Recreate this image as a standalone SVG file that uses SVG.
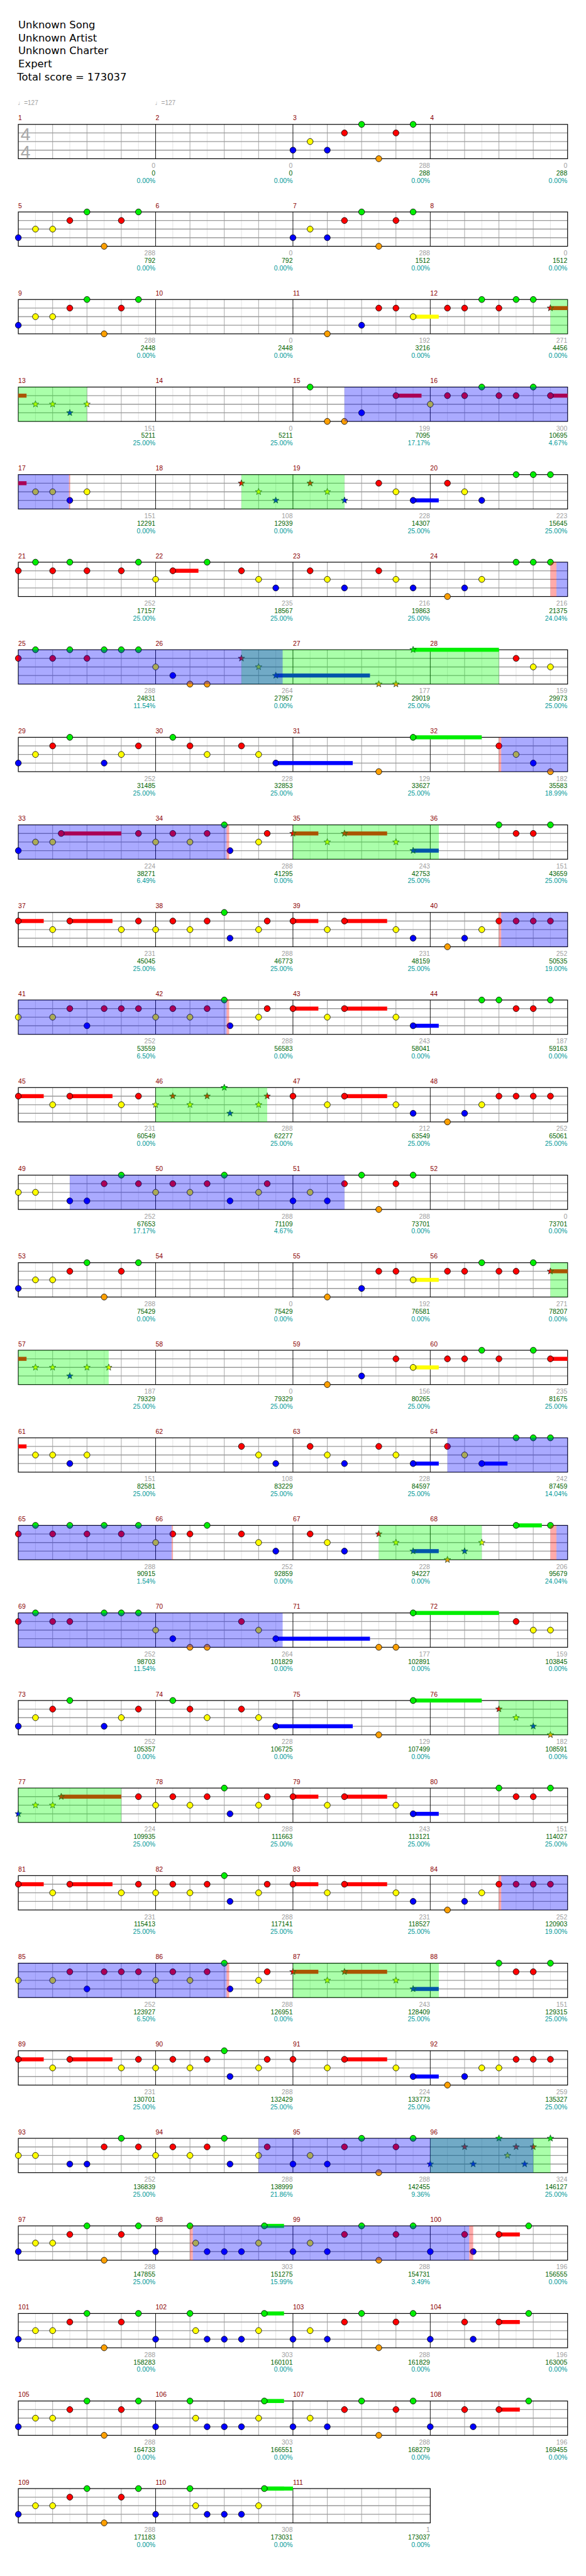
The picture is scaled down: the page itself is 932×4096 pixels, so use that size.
<svg xmlns="http://www.w3.org/2000/svg" xmlns:xlink="http://www.w3.org/1999/xlink" width="932" height="4096" viewBox="0 0 932 4096">
<defs>
<style>
text{font-family:"Liberation Sans",Arial,sans-serif;font-size:11.5px}
.t{font-family:"DejaVu Sans",sans-serif;font-size:18px;fill:#000}
.mn{fill:#8b0000}
.a,.c,.d{text-anchor:end}
.a{fill:#a0a0a0}.c{fill:#006400}.d{fill:#009999}
.tp{fill:#a0a0a0;font-size:11px}
.ts{fill:#a8a8a8;font-size:31px}
.g{fill:#00ee00}.r{fill:#f00}.y{fill:#ff0}.b{fill:#00f}.o{fill:#ffa000}
.ob{fill:#00f;fill-opacity:.333}.og{fill:#0f0;fill-opacity:.333}.op{fill:#f00;fill-opacity:.333}
</style>
<ellipse id="n" rx="5.2" ry="5.3" stroke="#000" stroke-width=".9"/>
<path id="s" d="M0,-6L1.47,-2.02L5.71,-1.85L2.38,0.77L3.53,4.85L0,2.5L-3.53,4.85L-2.38,0.77L-5.71,-1.85L-1.47,-2.02Z" stroke="#132" stroke-width=".8"/>
<g id="st4">
<rect x="32" y="0" width="960" height="60" fill="#fff"/>
<path d="M62 0V60M122 0V60M182 0V60M242 0V60M302 0V60M362 0V60M422 0V60M482 0V60M542 0V60M602 0V60M662 0V60M722 0V60M782 0V60M842 0V60M902 0V60M962 0V60" stroke="#e0e0e0"/>
<path d="M92 0V60M152 0V60M212 0V60M332 0V60M392 0V60M452 0V60M572 0V60M632 0V60M692 0V60M812 0V60M872 0V60M932 0V60" stroke="#a0a0a0"/>
<path d="M32 15H992M32 30H992M32 45H992" stroke="#999" stroke-width="1.5"/>
<path d="M272 0V60M512 0V60M752 0V60" stroke="#000"/>
<rect x="32" y="0" width="960" height="60" fill="none" stroke="#000" stroke-width="1.3"/>
</g>
<g id="st3">
<rect x="32" y="0" width="720" height="60" fill="#fff"/>
<path d="M62 0V60M122 0V60M182 0V60M242 0V60M302 0V60M362 0V60M422 0V60M482 0V60M542 0V60M602 0V60M662 0V60M722 0V60" stroke="#e0e0e0"/>
<path d="M92 0V60M152 0V60M212 0V60M332 0V60M392 0V60M452 0V60M572 0V60M632 0V60M692 0V60" stroke="#a0a0a0"/>
<path d="M32 15H752M32 30H752M32 45H752" stroke="#999" stroke-width="1.5"/>
<path d="M272 0V60M512 0V60" stroke="#000"/>
<rect x="32" y="0" width="720" height="60" fill="none" stroke="#000" stroke-width="1.3"/>
</g>
<g id="p1a"><use href="#n" class="b" x="32" y="45"/><use href="#n" class="y" x="62" y="30"/><use href="#n" class="y" x="92" y="30"/><use href="#n" class="r" x="122" y="15"/><use href="#n" class="g" x="152" y="0"/><use href="#n" class="o" x="182" y="60"/><use href="#n" class="r" x="212" y="15"/><use href="#n" class="g" x="242" y="0"/></g>
<g id="p1b"><use href="#n" class="b" x="512" y="45"/><use href="#n" class="y" x="542" y="30"/><use href="#n" class="b" x="572" y="45"/><use href="#n" class="r" x="602" y="15"/><use href="#n" class="g" x="632" y="0"/><use href="#n" class="o" x="662" y="60"/><use href="#n" class="r" x="692" y="15"/><use href="#n" class="g" x="722" y="0"/></g>
<g id="pmid"><use href="#n" class="y" x="272" y="30"/><use href="#n" class="r" x="302" y="15"/><use href="#n" class="y" x="332" y="30"/><use href="#n" class="r" x="362" y="15"/><use href="#n" class="g" x="392" y="0"/><use href="#n" class="b" x="402" y="45"/><use href="#n" class="y" x="452" y="30"/><use href="#n" class="r" x="467" y="15"/></g>
<g id="p37">
<rect class="r" x="32" y="11.5" width="44.4" height="7"/><rect class="r" x="122" y="11.5" width="74.6" height="7"/><rect class="r" x="512" y="11.5" width="44.4" height="7"/><rect class="r" x="602" y="11.5" width="74.6" height="7"/>
<use href="#n" class="r" x="32" y="15"/><use href="#n" class="y" x="92" y="30"/><use href="#n" class="r" x="122" y="15"/><use href="#n" class="y" x="212" y="30"/><use href="#n" class="r" x="242" y="15"/><use href="#pmid"/>
<use href="#n" class="r" x="512" y="15"/><use href="#n" class="y" x="572" y="30"/><use href="#n" class="r" x="602" y="15"/><use href="#n" class="y" x="692" y="30"/><use href="#n" class="b" x="722" y="45"/><use href="#n" class="o" x="782" y="60"/><use href="#n" class="b" x="812" y="45"/><use href="#n" class="y" x="842" y="30"/><use href="#n" class="r" x="872" y="15"/><use href="#n" class="r" x="902" y="15"/><use href="#n" class="r" x="932" y="15"/><use href="#n" class="r" x="962" y="15"/>
</g>
<g id="p97h">
<rect class="g" x="462" y="-3.5" width="34.4" height="7"/>
<use href="#p1a"/><use href="#n" class="b" x="272" y="45"/><use href="#n" class="g" x="332" y="0"/><use href="#n" class="y" x="342" y="30"/><use href="#n" class="b" x="362" y="45"/><use href="#n" class="b" x="392" y="45"/><use href="#n" class="b" x="422" y="45"/><use href="#n" class="y" x="452" y="30"/><use href="#n" class="g" x="462" y="0"/>
</g>
<g id="p97">
<rect class="r" x="872" y="11.5" width="36.5" height="7"/>
<use href="#p97h"/><use href="#n" class="b" x="512" y="45"/><use href="#n" class="y" x="542" y="30"/><use href="#n" class="b" x="572" y="45"/><use href="#n" class="r" x="602" y="15"/><use href="#n" class="g" x="632" y="0"/><use href="#n" class="o" x="662" y="60"/><use href="#n" class="r" x="692" y="15"/><use href="#n" class="g" x="722" y="0"/><use href="#n" class="b" x="752" y="45"/><use href="#n" class="r" x="812" y="15"/><use href="#n" class="b" x="827" y="45"/><use href="#n" class="r" x="872" y="15"/><use href="#n" class="g" x="924" y="0"/>
</g>
</defs>
<rect width="932" height="4096" fill="#fff"/>
<g transform="scale(0.91)">
<g id="header">
<text class="t" x="32" y="49">Unknown Song</text>
<text class="t" x="32" y="72">Unknown Artist</text>
<text class="t" x="32" y="95">Unknown Charter</text>
<text class="t" x="32" y="118">Expert</text>
<text class="t" x="30" y="141">Total score = 173037</text>
<text class="tp" x="31" y="184">♩=127</text>
<text class="tp" x="271" y="184">♩=127</text>
</g>
<g id="connectors"/>

<g id="row1" transform="translate(0,217.33)">
<use href="#st4"/>
<text class="ts" x="36" y="28">4</text><text class="ts" x="36" y="58">4</text>
<text class="mn" x="32" y="-7">1</text><text class="mn" x="272" y="-7">2</text><text class="mn" x="512" y="-7">3</text><text class="mn" x="752" y="-7">4</text>
<use href="#p1b"/>
<text class="a" x="271.5" y="76">0</text><text class="a" x="511.5" y="76">0</text><text class="a" x="751.5" y="76">288</text><text class="a" x="991.5" y="76">0</text>
<text class="c" x="271.5" y="89">0</text><text class="c" x="511.5" y="89">0</text><text class="c" x="751.5" y="89">288</text><text class="c" x="991.5" y="89">288</text>
<text class="d" x="271.5" y="102">0.00%</text><text class="d" x="511.5" y="102">0.00%</text><text class="d" x="751.5" y="102">0.00%</text><text class="d" x="991.5" y="102">0.00%</text>
</g>

<g id="row2" transform="translate(0,370.33)">
<use href="#st4"/>
<text class="mn" x="32" y="-7">5</text><text class="mn" x="272" y="-7">6</text><text class="mn" x="512" y="-7">7</text><text class="mn" x="752" y="-7">8</text>
<use href="#p1a"/><use href="#p1b"/>
<text class="a" x="271.5" y="76">288</text><text class="a" x="511.5" y="76">0</text><text class="a" x="751.5" y="76">288</text><text class="a" x="991.5" y="76">0</text>
<text class="c" x="271.5" y="89">792</text><text class="c" x="511.5" y="89">792</text><text class="c" x="751.5" y="89">1512</text><text class="c" x="991.5" y="89">1512</text>
<text class="d" x="271.5" y="102">0.00%</text><text class="d" x="511.5" y="102">0.00%</text><text class="d" x="751.5" y="102">0.00%</text><text class="d" x="991.5" y="102">0.00%</text>
</g>

<g id="row3" transform="translate(0,523.33)">
<use href="#st4"/>
<text class="mn" x="32" y="-7">9</text><text class="mn" x="272" y="-7">10</text><text class="mn" x="512" y="-7">11</text><text class="mn" x="752" y="-7">12</text>
<rect class="y" x="722" y="26.5" width="44.8" height="7"/><rect class="r" x="962" y="11.5" width="30" height="7"/>
<use href="#p1a"/>
<use href="#n" class="o" x="572" y="60"/><use href="#n" class="b" x="632" y="45"/><use href="#n" class="r" x="662" y="15"/><use href="#n" class="r" x="692" y="15"/><use href="#n" class="y" x="722" y="30"/><use href="#n" class="r" x="782" y="15"/><use href="#n" class="r" x="812" y="15"/><use href="#n" class="g" x="842" y="0"/><use href="#n" class="r" x="872" y="15"/><use href="#n" class="g" x="902" y="0"/><use href="#n" class="g" x="932" y="0"/><use href="#s" class="r" x="962" y="15"/>
<rect class="og" x="962" y="0" width="30" height="60"/>
<text class="a" x="271.5" y="76">288</text><text class="a" x="511.5" y="76">0</text><text class="a" x="751.5" y="76">192</text><text class="a" x="991.5" y="76">271</text>
<text class="c" x="271.5" y="89">2448</text><text class="c" x="511.5" y="89">2448</text><text class="c" x="751.5" y="89">3216</text><text class="c" x="991.5" y="89">4456</text>
<text class="d" x="271.5" y="102">0.00%</text><text class="d" x="511.5" y="102">0.00%</text><text class="d" x="751.5" y="102">0.00%</text><text class="d" x="991.5" y="102">0.00%</text>
</g>

<g id="row4" transform="translate(0,676.33)">
<use href="#st4"/>
<text class="mn" x="32" y="-7">13</text><text class="mn" x="272" y="-7">14</text><text class="mn" x="512" y="-7">15</text><text class="mn" x="752" y="-7">16</text>
<rect class="r" x="32" y="11.5" width="14.4" height="7"/><rect class="r" x="692" y="11.5" width="44.7" height="7"/><rect class="r" x="962" y="11.5" width="30" height="7"/>
<use href="#s" class="y" x="62" y="30"/><use href="#s" class="y" x="92" y="30"/><use href="#s" class="b" x="122" y="45"/><use href="#s" class="y" x="152" y="30"/>
<use href="#n" class="g" x="542" y="0"/><use href="#n" class="o" x="572" y="60"/><use href="#n" class="o" x="602" y="60"/><use href="#n" class="b" x="632" y="45"/><use href="#n" class="r" x="692" y="15"/><use href="#n" class="y" x="752" y="30"/><use href="#n" class="r" x="782" y="15"/><use href="#n" class="r" x="812" y="15"/><use href="#n" class="g" x="842" y="0"/><use href="#n" class="r" x="872" y="15"/><use href="#n" class="r" x="902" y="15"/><use href="#n" class="g" x="932" y="0"/><use href="#n" class="r" x="962" y="15"/>
<rect class="og" x="32" y="0" width="120" height="60"/><rect class="ob" x="602" y="0" width="390" height="60"/>
<text class="a" x="271.5" y="76">151</text><text class="a" x="511.5" y="76">0</text><text class="a" x="751.5" y="76">199</text><text class="a" x="991.5" y="76">300</text>
<text class="c" x="271.5" y="89">5211</text><text class="c" x="511.5" y="89">5211</text><text class="c" x="751.5" y="89">7095</text><text class="c" x="991.5" y="89">10695</text>
<text class="d" x="271.5" y="102">25.00%</text><text class="d" x="511.5" y="102">25.00%</text><text class="d" x="751.5" y="102">17.17%</text><text class="d" x="991.5" y="102">4.67%</text>
</g>

<g id="row5" transform="translate(0,829.33)">
<use href="#st4"/>
<text class="mn" x="32" y="-7">17</text><text class="mn" x="272" y="-7">18</text><text class="mn" x="512" y="-7">19</text><text class="mn" x="752" y="-7">20</text>
<rect class="r" x="32" y="11.5" width="14.4" height="7"/><rect class="b" x="722" y="41.5" width="44.8" height="7"/>
<use href="#n" class="y" x="62" y="30"/><use href="#n" class="y" x="92" y="30"/><use href="#n" class="b" x="122" y="45"/><use href="#n" class="y" x="152" y="30"/>
<use href="#s" class="r" x="422" y="15"/><use href="#s" class="y" x="452" y="30"/><use href="#s" class="b" x="482" y="45"/><use href="#s" class="r" x="542" y="15"/><use href="#s" class="y" x="572" y="30"/><use href="#s" class="b" x="602" y="45"/>
<use href="#n" class="r" x="662" y="15"/><use href="#n" class="y" x="692" y="30"/><use href="#n" class="b" x="722" y="45"/><use href="#n" class="r" x="782" y="15"/><use href="#n" class="y" x="812" y="30"/><use href="#n" class="b" x="842" y="45"/><use href="#n" class="g" x="902" y="0"/><use href="#n" class="g" x="932" y="0"/><use href="#n" class="g" x="962" y="0"/>
<rect class="og" x="422" y="0" width="180" height="60"/><rect class="op" x="120.5" y="0" width="2" height="60"/><rect class="ob" x="32" y="0" width="88.5" height="60"/>
<text class="a" x="271.5" y="76">151</text><text class="a" x="511.5" y="76">108</text><text class="a" x="751.5" y="76">228</text><text class="a" x="991.5" y="76">223</text>
<text class="c" x="271.5" y="89">12291</text><text class="c" x="511.5" y="89">12939</text><text class="c" x="751.5" y="89">14307</text><text class="c" x="991.5" y="89">15645</text>
<text class="d" x="271.5" y="102">0.00%</text><text class="d" x="511.5" y="102">0.00%</text><text class="d" x="751.5" y="102">25.00%</text><text class="d" x="991.5" y="102">25.00%</text>
</g>

<g id="row6" transform="translate(0,982.33)">
<use href="#st4"/>
<text class="mn" x="32" y="-7">21</text><text class="mn" x="272" y="-7">22</text><text class="mn" x="512" y="-7">23</text><text class="mn" x="752" y="-7">24</text>
<rect class="r" x="302" y="11.5" width="44.8" height="7"/>
<use href="#n" class="r" x="32" y="15"/><use href="#n" class="g" x="62" y="0"/><use href="#n" class="r" x="92" y="15"/><use href="#n" class="g" x="122" y="0"/><use href="#n" class="r" x="152" y="15"/><use href="#n" class="r" x="212" y="15"/><use href="#n" class="g" x="242" y="0"/><use href="#n" class="y" x="272" y="30"/><use href="#n" class="r" x="302" y="15"/><use href="#n" class="g" x="362" y="0"/><use href="#n" class="r" x="422" y="15"/><use href="#n" class="y" x="452" y="30"/><use href="#n" class="b" x="482" y="45"/><use href="#n" class="r" x="542" y="15"/><use href="#n" class="y" x="572" y="30"/><use href="#n" class="b" x="602" y="45"/><use href="#n" class="r" x="662" y="15"/><use href="#n" class="y" x="692" y="30"/><use href="#n" class="b" x="722" y="45"/><use href="#n" class="o" x="782" y="60"/><use href="#n" class="b" x="812" y="45"/><use href="#n" class="y" x="842" y="30"/><use href="#n" class="g" x="902" y="0"/><use href="#n" class="g" x="932" y="0"/><use href="#n" class="g" x="962" y="0"/>
<rect class="op" x="962" y="0" width="10.5" height="60"/><rect class="ob" x="972.5" y="0" width="19.5" height="60"/>
<text class="a" x="271.5" y="76">252</text><text class="a" x="511.5" y="76">235</text><text class="a" x="751.5" y="76">216</text><text class="a" x="991.5" y="76">216</text>
<text class="c" x="271.5" y="89">17157</text><text class="c" x="511.5" y="89">18567</text><text class="c" x="751.5" y="89">19863</text><text class="c" x="991.5" y="89">21375</text>
<text class="d" x="271.5" y="102">25.00%</text><text class="d" x="511.5" y="102">25.00%</text><text class="d" x="751.5" y="102">25.00%</text><text class="d" x="991.5" y="102">24.04%</text>
</g>

<g id="row7" transform="translate(0,1135.33)">
<use href="#st4"/>
<text class="mn" x="32" y="-7">25</text><text class="mn" x="272" y="-7">26</text><text class="mn" x="512" y="-7">27</text><text class="mn" x="752" y="-7">28</text>
<rect class="b" x="482" y="41.5" width="164.6" height="7"/><rect class="g" x="722" y="-3.5" width="150" height="7"/>
<use href="#n" class="r" x="32" y="15"/><use href="#n" class="g" x="62" y="0"/><use href="#n" class="r" x="92" y="15"/><use href="#n" class="g" x="122" y="0"/><use href="#n" class="r" x="152" y="15"/><use href="#n" class="g" x="182" y="0"/><use href="#n" class="g" x="212" y="0"/><use href="#n" class="g" x="242" y="0"/><use href="#n" class="y" x="272" y="30"/><use href="#n" class="b" x="302" y="45"/><use href="#n" class="o" x="332" y="60"/><use href="#n" class="o" x="362" y="60"/>
<use href="#s" class="r" x="422" y="15"/><use href="#s" class="y" x="452" y="30"/><use href="#s" class="b" x="482" y="45"/><use href="#s" class="o" x="662" y="60"/><use href="#s" class="o" x="692" y="60"/><use href="#s" class="g" x="722" y="0"/>
<use href="#n" class="r" x="902" y="15"/><use href="#n" class="y" x="932" y="30"/><use href="#n" class="y" x="962" y="30"/>
<rect class="og" x="422" y="0" width="450" height="60"/><rect class="ob" x="32" y="0" width="462" height="60"/>
<text class="a" x="271.5" y="76">288</text><text class="a" x="511.5" y="76">264</text><text class="a" x="751.5" y="76">177</text><text class="a" x="991.5" y="76">159</text>
<text class="c" x="271.5" y="89">24831</text><text class="c" x="511.5" y="89">27957</text><text class="c" x="751.5" y="89">29019</text><text class="c" x="991.5" y="89">29973</text>
<text class="d" x="271.5" y="102">11.54%</text><text class="d" x="511.5" y="102">0.00%</text><text class="d" x="751.5" y="102">25.00%</text><text class="d" x="991.5" y="102">25.00%</text>
</g>

<g id="row8" transform="translate(0,1288.33)">
<use href="#st4"/>
<text class="mn" x="32" y="-7">29</text><text class="mn" x="272" y="-7">30</text><text class="mn" x="512" y="-7">31</text><text class="mn" x="752" y="-7">32</text>
<rect class="b" x="482" y="41.5" width="134.5" height="7"/><rect class="g" x="722" y="-3.5" width="120" height="7"/>
<use href="#n" class="b" x="32" y="45"/><use href="#n" class="y" x="62" y="30"/><use href="#n" class="r" x="92" y="15"/><use href="#n" class="g" x="122" y="0"/><use href="#n" class="b" x="182" y="45"/><use href="#n" class="y" x="212" y="30"/><use href="#n" class="r" x="242" y="15"/><use href="#n" class="g" x="302" y="0"/><use href="#n" class="r" x="332" y="15"/><use href="#n" class="y" x="362" y="30"/><use href="#n" class="r" x="422" y="15"/><use href="#n" class="y" x="452" y="30"/><use href="#n" class="b" x="482" y="45"/><use href="#n" class="o" x="662" y="60"/><use href="#n" class="g" x="722" y="0"/><use href="#n" class="r" x="872" y="15"/><use href="#n" class="y" x="902" y="30"/><use href="#n" class="b" x="932" y="45"/><use href="#n" class="o" x="962" y="60"/>
<rect class="op" x="872" y="0" width="4" height="60"/><rect class="ob" x="876" y="0" width="116" height="60"/>
<text class="a" x="271.5" y="76">252</text><text class="a" x="511.5" y="76">228</text><text class="a" x="751.5" y="76">129</text><text class="a" x="991.5" y="76">182</text>
<text class="c" x="271.5" y="89">31485</text><text class="c" x="511.5" y="89">32853</text><text class="c" x="751.5" y="89">33627</text><text class="c" x="991.5" y="89">35583</text>
<text class="d" x="271.5" y="102">25.00%</text><text class="d" x="511.5" y="102">25.00%</text><text class="d" x="751.5" y="102">25.00%</text><text class="d" x="991.5" y="102">18.99%</text>
</g>

<g id="row9" transform="translate(0,1441.33)">
<use href="#st4"/>
<text class="mn" x="32" y="-7">33</text><text class="mn" x="272" y="-7">34</text><text class="mn" x="512" y="-7">35</text><text class="mn" x="752" y="-7">36</text>
<rect class="r" x="107" y="11.5" width="105" height="7"/><rect class="r" x="512" y="11.5" width="44.4" height="7"/><rect class="r" x="602" y="11.5" width="74.6" height="7"/><rect class="b" x="722" y="41.5" width="44.8" height="7"/>
<use href="#n" class="b" x="32" y="45"/><use href="#n" class="y" x="62" y="30"/><use href="#n" class="y" x="92" y="30"/><use href="#n" class="r" x="107" y="15"/><use href="#n" class="r" x="242" y="15"/><use href="#pmid"/>
<use href="#s" class="r" x="512" y="15"/><use href="#s" class="y" x="572" y="30"/><use href="#s" class="r" x="602" y="15"/><use href="#s" class="y" x="692" y="30"/><use href="#s" class="b" x="722" y="45"/>
<use href="#n" class="g" x="872" y="0"/><use href="#n" class="r" x="902" y="15"/><use href="#n" class="r" x="932" y="15"/><use href="#n" class="g" x="962" y="0"/>
<rect class="og" x="512" y="0" width="255" height="60"/><rect class="ob" x="32" y="0" width="364" height="60"/><rect class="op" x="396" y="0" width="4.5" height="60"/>
<text class="a" x="271.5" y="76">224</text><text class="a" x="511.5" y="76">288</text><text class="a" x="751.5" y="76">243</text><text class="a" x="991.5" y="76">151</text>
<text class="c" x="271.5" y="89">38271</text><text class="c" x="511.5" y="89">41295</text><text class="c" x="751.5" y="89">42753</text><text class="c" x="991.5" y="89">43659</text>
<text class="d" x="271.5" y="102">6.49%</text><text class="d" x="511.5" y="102">0.00%</text><text class="d" x="751.5" y="102">25.00%</text><text class="d" x="991.5" y="102">25.00%</text>
</g>

<g id="row10" transform="translate(0,1594.33)">
<use href="#st4"/>
<text class="mn" x="32" y="-7">37</text><text class="mn" x="272" y="-7">38</text><text class="mn" x="512" y="-7">39</text><text class="mn" x="752" y="-7">40</text>
<use href="#p37"/>
<rect class="op" x="872" y="0" width="4" height="60"/><rect class="ob" x="876" y="0" width="116" height="60"/>
<text class="a" x="271.5" y="76">231</text><text class="a" x="511.5" y="76">288</text><text class="a" x="751.5" y="76">231</text><text class="a" x="991.5" y="76">252</text>
<text class="c" x="271.5" y="89">45045</text><text class="c" x="511.5" y="89">46773</text><text class="c" x="751.5" y="89">48159</text><text class="c" x="991.5" y="89">50535</text>
<text class="d" x="271.5" y="102">25.00%</text><text class="d" x="511.5" y="102">25.00%</text><text class="d" x="751.5" y="102">25.00%</text><text class="d" x="991.5" y="102">19.00%</text>
</g>

<g id="row11" transform="translate(0,1747.33)">
<use href="#st4"/>
<text class="mn" x="32" y="-7">41</text><text class="mn" x="272" y="-7">42</text><text class="mn" x="512" y="-7">43</text><text class="mn" x="752" y="-7">44</text>
<rect class="r" x="512" y="11.5" width="44.4" height="7"/><rect class="r" x="602" y="11.5" width="74.6" height="7"/><rect class="b" x="722" y="41.5" width="44.8" height="7"/>
<use href="#n" class="y" x="32" y="30"/><use href="#n" class="y" x="92" y="30"/><use href="#n" class="r" x="122" y="15"/><use href="#n" class="b" x="152" y="45"/><use href="#n" class="r" x="182" y="15"/><use href="#n" class="r" x="212" y="15"/><use href="#n" class="r" x="242" y="15"/><use href="#pmid"/>
<use href="#n" class="r" x="512" y="15"/><use href="#n" class="y" x="572" y="30"/><use href="#n" class="r" x="602" y="15"/><use href="#n" class="y" x="692" y="30"/><use href="#n" class="b" x="722" y="45"/><use href="#n" class="g" x="842" y="0"/><use href="#n" class="g" x="872" y="0"/><use href="#n" class="r" x="902" y="15"/><use href="#n" class="r" x="932" y="15"/><use href="#n" class="g" x="962" y="0"/>
<rect class="ob" x="32" y="0" width="364" height="60"/><rect class="op" x="396" y="0" width="4.5" height="60"/>
<text class="a" x="271.5" y="76">252</text><text class="a" x="511.5" y="76">288</text><text class="a" x="751.5" y="76">243</text><text class="a" x="991.5" y="76">187</text>
<text class="c" x="271.5" y="89">53559</text><text class="c" x="511.5" y="89">56583</text><text class="c" x="751.5" y="89">58041</text><text class="c" x="991.5" y="89">59163</text>
<text class="d" x="271.5" y="102">6.50%</text><text class="d" x="511.5" y="102">0.00%</text><text class="d" x="751.5" y="102">0.00%</text><text class="d" x="991.5" y="102">0.00%</text>
</g>

<g id="row12" transform="translate(0,1900.33)">
<use href="#st4"/>
<text class="mn" x="32" y="-7">45</text><text class="mn" x="272" y="-7">46</text><text class="mn" x="512" y="-7">47</text><text class="mn" x="752" y="-7">48</text>
<rect class="r" x="32" y="11.5" width="44.4" height="7"/><rect class="r" x="122" y="11.5" width="74.6" height="7"/><rect class="r" x="602" y="11.5" width="74.6" height="7"/>
<use href="#n" class="r" x="32" y="15"/><use href="#n" class="y" x="92" y="30"/><use href="#n" class="r" x="122" y="15"/><use href="#n" class="y" x="212" y="30"/><use href="#n" class="r" x="242" y="15"/>
<use href="#s" class="y" x="272" y="30"/><use href="#s" class="r" x="302" y="15"/><use href="#s" class="y" x="332" y="30"/><use href="#s" class="r" x="362" y="15"/><use href="#s" class="g" x="392" y="0"/><use href="#s" class="b" x="402" y="45"/><use href="#s" class="y" x="452" y="30"/><use href="#s" class="r" x="467" y="15"/>
<use href="#n" class="r" x="512" y="15"/><use href="#n" class="y" x="572" y="30"/><use href="#n" class="r" x="602" y="15"/><use href="#n" class="y" x="692" y="30"/><use href="#n" class="b" x="722" y="45"/><use href="#n" class="o" x="782" y="60"/><use href="#n" class="b" x="812" y="45"/><use href="#n" class="y" x="842" y="30"/><use href="#n" class="r" x="872" y="15"/><use href="#n" class="r" x="902" y="15"/><use href="#n" class="r" x="932" y="15"/><use href="#n" class="r" x="962" y="15"/>
<rect class="og" x="272" y="0" width="195" height="60"/>
<text class="a" x="271.5" y="76">231</text><text class="a" x="511.5" y="76">288</text><text class="a" x="751.5" y="76">212</text><text class="a" x="991.5" y="76">252</text>
<text class="c" x="271.5" y="89">60549</text><text class="c" x="511.5" y="89">62277</text><text class="c" x="751.5" y="89">63549</text><text class="c" x="991.5" y="89">65061</text>
<text class="d" x="271.5" y="102">0.00%</text><text class="d" x="511.5" y="102">25.00%</text><text class="d" x="751.5" y="102">25.00%</text><text class="d" x="991.5" y="102">25.00%</text>
</g>

<g id="row13" transform="translate(0,2053.33)">
<use href="#st4"/>
<text class="mn" x="32" y="-7">49</text><text class="mn" x="272" y="-7">50</text><text class="mn" x="512" y="-7">51</text><text class="mn" x="752" y="-7">52</text>
<use href="#n" class="y" x="32" y="30"/><use href="#n" class="y" x="62" y="30"/><use href="#n" class="b" x="122" y="45"/><use href="#n" class="b" x="152" y="45"/><use href="#n" class="r" x="182" y="15"/><use href="#n" class="g" x="212" y="0"/><use href="#n" class="r" x="242" y="15"/><use href="#pmid"/><use href="#p1b"/>
<rect class="ob" x="122" y="0" width="480" height="60"/>
<text class="a" x="271.5" y="76">252</text><text class="a" x="511.5" y="76">288</text><text class="a" x="751.5" y="76">288</text><text class="a" x="991.5" y="76">0</text>
<text class="c" x="271.5" y="89">67653</text><text class="c" x="511.5" y="89">71109</text><text class="c" x="751.5" y="89">73701</text><text class="c" x="991.5" y="89">73701</text>
<text class="d" x="271.5" y="102">17.17%</text><text class="d" x="511.5" y="102">4.67%</text><text class="d" x="751.5" y="102">0.00%</text><text class="d" x="991.5" y="102">0.00%</text>
</g>

<g id="row14" transform="translate(0,2206.33)">
<use href="#st4"/>
<text class="mn" x="32" y="-7">53</text><text class="mn" x="272" y="-7">54</text><text class="mn" x="512" y="-7">55</text><text class="mn" x="752" y="-7">56</text>
<rect class="y" x="722" y="26.5" width="44.8" height="7"/><rect class="r" x="962" y="11.5" width="30" height="7"/>
<use href="#p1a"/>
<use href="#n" class="o" x="572" y="60"/><use href="#n" class="b" x="632" y="45"/><use href="#n" class="r" x="662" y="15"/><use href="#n" class="r" x="692" y="15"/><use href="#n" class="y" x="722" y="30"/><use href="#n" class="r" x="782" y="15"/><use href="#n" class="r" x="812" y="15"/><use href="#n" class="g" x="842" y="0"/><use href="#n" class="r" x="872" y="15"/><use href="#n" class="r" x="902" y="15"/><use href="#n" class="g" x="932" y="0"/><use href="#s" class="r" x="962" y="15"/>
<rect class="og" x="962" y="0" width="30" height="60"/>
<text class="a" x="271.5" y="76">288</text><text class="a" x="511.5" y="76">0</text><text class="a" x="751.5" y="76">192</text><text class="a" x="991.5" y="76">271</text>
<text class="c" x="271.5" y="89">75429</text><text class="c" x="511.5" y="89">75429</text><text class="c" x="751.5" y="89">76581</text><text class="c" x="991.5" y="89">78207</text>
<text class="d" x="271.5" y="102">0.00%</text><text class="d" x="511.5" y="102">0.00%</text><text class="d" x="751.5" y="102">0.00%</text><text class="d" x="991.5" y="102">0.00%</text>
</g>

<g id="row15" transform="translate(0,2359.33)">
<use href="#st4"/>
<text class="mn" x="32" y="-7">57</text><text class="mn" x="272" y="-7">58</text><text class="mn" x="512" y="-7">59</text><text class="mn" x="752" y="-7">60</text>
<rect class="r" x="32" y="11.5" width="14.4" height="7"/><rect class="y" x="722" y="26.5" width="44.8" height="7"/><rect class="r" x="962" y="11.5" width="30" height="7"/>
<use href="#s" class="y" x="62" y="30"/><use href="#s" class="y" x="92" y="30"/><use href="#s" class="b" x="122" y="45"/><use href="#s" class="y" x="152" y="30"/><use href="#s" class="y" x="190" y="30"/>
<use href="#n" class="o" x="572" y="60"/><use href="#n" class="b" x="632" y="45"/><use href="#n" class="r" x="692" y="15"/><use href="#n" class="y" x="722" y="30"/><use href="#n" class="r" x="782" y="15"/><use href="#n" class="r" x="812" y="15"/><use href="#n" class="g" x="842" y="0"/><use href="#n" class="r" x="872" y="15"/><use href="#n" class="g" x="932" y="0"/><use href="#n" class="r" x="962" y="15"/>
<rect class="og" x="32" y="0" width="158" height="60"/>
<text class="a" x="271.5" y="76">187</text><text class="a" x="511.5" y="76">0</text><text class="a" x="751.5" y="76">156</text><text class="a" x="991.5" y="76">235</text>
<text class="c" x="271.5" y="89">79329</text><text class="c" x="511.5" y="89">79329</text><text class="c" x="751.5" y="89">80265</text><text class="c" x="991.5" y="89">81675</text>
<text class="d" x="271.5" y="102">25.00%</text><text class="d" x="511.5" y="102">25.00%</text><text class="d" x="751.5" y="102">25.00%</text><text class="d" x="991.5" y="102">25.00%</text>
</g>

<g id="row16" transform="translate(0,2512.33)">
<use href="#st4"/>
<text class="mn" x="32" y="-7">61</text><text class="mn" x="272" y="-7">62</text><text class="mn" x="512" y="-7">63</text><text class="mn" x="752" y="-7">64</text>
<rect class="r" x="32" y="11.5" width="14.4" height="7"/><rect class="b" x="722" y="41.5" width="44.8" height="7"/><rect class="b" x="842" y="41.5" width="45" height="7"/>
<use href="#n" class="y" x="62" y="30"/><use href="#n" class="y" x="92" y="30"/><use href="#n" class="b" x="122" y="45"/><use href="#n" class="y" x="152" y="30"/>
<use href="#n" class="r" x="422" y="15"/><use href="#n" class="y" x="452" y="30"/><use href="#n" class="b" x="482" y="45"/><use href="#n" class="r" x="542" y="15"/><use href="#n" class="y" x="572" y="30"/><use href="#n" class="b" x="602" y="45"/><use href="#n" class="r" x="662" y="15"/><use href="#n" class="y" x="692" y="30"/><use href="#n" class="b" x="722" y="45"/><use href="#n" class="r" x="782" y="15"/><use href="#n" class="y" x="812" y="30"/><use href="#n" class="b" x="842" y="45"/><use href="#n" class="g" x="902" y="0"/><use href="#n" class="g" x="932" y="0"/><use href="#n" class="g" x="962" y="0"/>
<rect class="ob" x="782" y="0" width="210" height="60"/>
<text class="a" x="271.5" y="76">151</text><text class="a" x="511.5" y="76">108</text><text class="a" x="751.5" y="76">228</text><text class="a" x="991.5" y="76">242</text>
<text class="c" x="271.5" y="89">82581</text><text class="c" x="511.5" y="89">83229</text><text class="c" x="751.5" y="89">84597</text><text class="c" x="991.5" y="89">87459</text>
<text class="d" x="271.5" y="102">25.00%</text><text class="d" x="511.5" y="102">25.00%</text><text class="d" x="751.5" y="102">25.00%</text><text class="d" x="991.5" y="102">14.04%</text>
</g>

<g id="row17" transform="translate(0,2665.33)">
<use href="#st4"/>
<text class="mn" x="32" y="-7">65</text><text class="mn" x="272" y="-7">66</text><text class="mn" x="512" y="-7">67</text><text class="mn" x="752" y="-7">68</text>
<rect class="b" x="722" y="41.5" width="44.8" height="7"/><rect class="g" x="902" y="-3.5" width="45" height="7"/>
<use href="#n" class="r" x="32" y="15"/><use href="#n" class="g" x="62" y="0"/><use href="#n" class="r" x="92" y="15"/><use href="#n" class="g" x="122" y="0"/><use href="#n" class="r" x="152" y="15"/><use href="#n" class="g" x="182" y="0"/><use href="#n" class="r" x="212" y="15"/><use href="#n" class="g" x="242" y="0"/><use href="#n" class="y" x="272" y="30"/><use href="#n" class="r" x="302" y="15"/><use href="#n" class="r" x="332" y="15"/><use href="#n" class="g" x="362" y="0"/><use href="#n" class="r" x="422" y="15"/><use href="#n" class="y" x="452" y="30"/><use href="#n" class="b" x="482" y="45"/><use href="#n" class="r" x="542" y="15"/><use href="#n" class="y" x="572" y="30"/><use href="#n" class="b" x="602" y="45"/>
<use href="#s" class="r" x="662" y="15"/><use href="#s" class="y" x="692" y="30"/><use href="#s" class="b" x="722" y="45"/><use href="#s" class="o" x="782" y="60"/><use href="#s" class="b" x="812" y="45"/><use href="#s" class="y" x="842" y="30"/>
<use href="#n" class="g" x="902" y="0"/><use href="#n" class="g" x="962" y="0"/>
<rect class="og" x="662" y="0" width="180" height="60"/><rect class="op" x="300" y="0" width="2" height="60"/><rect class="op" x="962" y="0" width="10.5" height="60"/><rect class="ob" x="32" y="0" width="268" height="60"/><rect class="ob" x="972.5" y="0" width="19.5" height="60"/>
<text class="a" x="271.5" y="76">288</text><text class="a" x="511.5" y="76">252</text><text class="a" x="751.5" y="76">228</text><text class="a" x="991.5" y="76">206</text>
<text class="c" x="271.5" y="89">90915</text><text class="c" x="511.5" y="89">92859</text><text class="c" x="751.5" y="89">94227</text><text class="c" x="991.5" y="89">95679</text>
<text class="d" x="271.5" y="102">1.54%</text><text class="d" x="511.5" y="102">0.00%</text><text class="d" x="751.5" y="102">0.00%</text><text class="d" x="991.5" y="102">24.04%</text>
</g>

<g id="row18" transform="translate(0,2818.33)">
<use href="#st4"/>
<text class="mn" x="32" y="-7">69</text><text class="mn" x="272" y="-7">70</text><text class="mn" x="512" y="-7">71</text><text class="mn" x="752" y="-7">72</text>
<rect class="b" x="482" y="41.5" width="164.6" height="7"/><rect class="g" x="722" y="-3.5" width="150" height="7"/>
<use href="#n" class="r" x="32" y="15"/><use href="#n" class="g" x="62" y="0"/><use href="#n" class="r" x="92" y="15"/><use href="#n" class="r" x="122" y="15"/><use href="#n" class="g" x="182" y="0"/><use href="#n" class="g" x="212" y="0"/><use href="#n" class="g" x="242" y="0"/><use href="#n" class="y" x="272" y="30"/><use href="#n" class="b" x="302" y="45"/><use href="#n" class="o" x="332" y="60"/><use href="#n" class="o" x="362" y="60"/><use href="#n" class="r" x="422" y="15"/><use href="#n" class="y" x="452" y="30"/><use href="#n" class="b" x="482" y="45"/><use href="#n" class="o" x="662" y="60"/><use href="#n" class="o" x="692" y="60"/><use href="#n" class="g" x="722" y="0"/><use href="#n" class="r" x="902" y="15"/><use href="#n" class="y" x="932" y="30"/><use href="#n" class="y" x="962" y="30"/>
<rect class="ob" x="32" y="0" width="462" height="60"/>
<text class="a" x="271.5" y="76">252</text><text class="a" x="511.5" y="76">264</text><text class="a" x="751.5" y="76">177</text><text class="a" x="991.5" y="76">159</text>
<text class="c" x="271.5" y="89">98703</text><text class="c" x="511.5" y="89">101829</text><text class="c" x="751.5" y="89">102891</text><text class="c" x="991.5" y="89">103845</text>
<text class="d" x="271.5" y="102">11.54%</text><text class="d" x="511.5" y="102">0.00%</text><text class="d" x="751.5" y="102">0.00%</text><text class="d" x="991.5" y="102">0.00%</text>
</g>

<g id="row19" transform="translate(0,2971.33)">
<use href="#st4"/>
<text class="mn" x="32" y="-7">73</text><text class="mn" x="272" y="-7">74</text><text class="mn" x="512" y="-7">75</text><text class="mn" x="752" y="-7">76</text>
<rect class="b" x="482" y="41.5" width="134.5" height="7"/><rect class="g" x="722" y="-3.5" width="120" height="7"/>
<use href="#n" class="b" x="32" y="45"/><use href="#n" class="y" x="62" y="30"/><use href="#n" class="r" x="92" y="15"/><use href="#n" class="g" x="122" y="0"/><use href="#n" class="b" x="182" y="45"/><use href="#n" class="y" x="212" y="30"/><use href="#n" class="r" x="242" y="15"/><use href="#n" class="g" x="302" y="0"/><use href="#n" class="r" x="332" y="15"/><use href="#n" class="y" x="362" y="30"/><use href="#n" class="r" x="422" y="15"/><use href="#n" class="y" x="452" y="30"/><use href="#n" class="b" x="482" y="45"/><use href="#n" class="o" x="662" y="60"/><use href="#n" class="g" x="722" y="0"/>
<use href="#s" class="r" x="872" y="15"/><use href="#s" class="y" x="902" y="30"/><use href="#s" class="b" x="932" y="45"/><use href="#s" class="o" x="962" y="60"/>
<rect class="og" x="872" y="0" width="120" height="60"/>
<text class="a" x="271.5" y="76">252</text><text class="a" x="511.5" y="76">228</text><text class="a" x="751.5" y="76">129</text><text class="a" x="991.5" y="76">182</text>
<text class="c" x="271.5" y="89">105357</text><text class="c" x="511.5" y="89">106725</text><text class="c" x="751.5" y="89">107499</text><text class="c" x="991.5" y="89">108591</text>
<text class="d" x="271.5" y="102">0.00%</text><text class="d" x="511.5" y="102">0.00%</text><text class="d" x="751.5" y="102">0.00%</text><text class="d" x="991.5" y="102">0.00%</text>
</g>

<g id="row20" transform="translate(0,3124.33)">
<use href="#st4"/>
<text class="mn" x="32" y="-7">77</text><text class="mn" x="272" y="-7">78</text><text class="mn" x="512" y="-7">79</text><text class="mn" x="752" y="-7">80</text>
<rect class="r" x="107" y="11.5" width="105" height="7"/><rect class="r" x="512" y="11.5" width="44.4" height="7"/><rect class="r" x="602" y="11.5" width="74.6" height="7"/><rect class="b" x="722" y="41.5" width="44.8" height="7"/>
<use href="#s" class="b" x="32" y="45"/><use href="#s" class="y" x="62" y="30"/><use href="#s" class="y" x="92" y="30"/><use href="#s" class="r" x="107" y="15"/>
<use href="#n" class="r" x="242" y="15"/><use href="#pmid"/>
<use href="#n" class="r" x="512" y="15"/><use href="#n" class="y" x="572" y="30"/><use href="#n" class="r" x="602" y="15"/><use href="#n" class="y" x="692" y="30"/><use href="#n" class="b" x="722" y="45"/><use href="#n" class="g" x="872" y="0"/><use href="#n" class="r" x="902" y="15"/><use href="#n" class="r" x="932" y="15"/><use href="#n" class="g" x="962" y="0"/>
<rect class="og" x="32" y="0" width="180" height="60"/>
<text class="a" x="271.5" y="76">224</text><text class="a" x="511.5" y="76">288</text><text class="a" x="751.5" y="76">243</text><text class="a" x="991.5" y="76">151</text>
<text class="c" x="271.5" y="89">109935</text><text class="c" x="511.5" y="89">111663</text><text class="c" x="751.5" y="89">113121</text><text class="c" x="991.5" y="89">114027</text>
<text class="d" x="271.5" y="102">25.00%</text><text class="d" x="511.5" y="102">25.00%</text><text class="d" x="751.5" y="102">25.00%</text><text class="d" x="991.5" y="102">25.00%</text>
</g>

<g id="row21" transform="translate(0,3277.33)">
<use href="#st4"/>
<text class="mn" x="32" y="-7">81</text><text class="mn" x="272" y="-7">82</text><text class="mn" x="512" y="-7">83</text><text class="mn" x="752" y="-7">84</text>
<use href="#p37"/>
<rect class="op" x="872" y="0" width="4" height="60"/><rect class="ob" x="876" y="0" width="116" height="60"/>
<text class="a" x="271.5" y="76">231</text><text class="a" x="511.5" y="76">288</text><text class="a" x="751.5" y="76">231</text><text class="a" x="991.5" y="76">252</text>
<text class="c" x="271.5" y="89">115413</text><text class="c" x="511.5" y="89">117141</text><text class="c" x="751.5" y="89">118527</text><text class="c" x="991.5" y="89">120903</text>
<text class="d" x="271.5" y="102">25.00%</text><text class="d" x="511.5" y="102">25.00%</text><text class="d" x="751.5" y="102">25.00%</text><text class="d" x="991.5" y="102">19.00%</text>
</g>

<g id="row22" transform="translate(0,3430.33)">
<use href="#st4"/>
<text class="mn" x="32" y="-7">85</text><text class="mn" x="272" y="-7">86</text><text class="mn" x="512" y="-7">87</text><text class="mn" x="752" y="-7">88</text>
<rect class="r" x="512" y="11.5" width="44.4" height="7"/><rect class="r" x="602" y="11.5" width="74.6" height="7"/><rect class="b" x="722" y="41.5" width="44.8" height="7"/>
<use href="#n" class="y" x="32" y="30"/><use href="#n" class="y" x="92" y="30"/><use href="#n" class="r" x="122" y="15"/><use href="#n" class="b" x="152" y="45"/><use href="#n" class="r" x="182" y="15"/><use href="#n" class="r" x="212" y="15"/><use href="#n" class="r" x="242" y="15"/><use href="#pmid"/>
<use href="#s" class="r" x="512" y="15"/><use href="#s" class="y" x="572" y="30"/><use href="#s" class="r" x="602" y="15"/><use href="#s" class="y" x="692" y="30"/><use href="#s" class="b" x="722" y="45"/>
<use href="#n" class="g" x="872" y="0"/><use href="#n" class="r" x="902" y="15"/><use href="#n" class="r" x="932" y="15"/><use href="#n" class="g" x="962" y="0"/>
<rect class="og" x="512" y="0" width="255" height="60"/><rect class="ob" x="32" y="0" width="364" height="60"/><rect class="op" x="396" y="0" width="4.5" height="60"/>
<text class="a" x="271.5" y="76">252</text><text class="a" x="511.5" y="76">288</text><text class="a" x="751.5" y="76">243</text><text class="a" x="991.5" y="76">151</text>
<text class="c" x="271.5" y="89">123927</text><text class="c" x="511.5" y="89">126951</text><text class="c" x="751.5" y="89">128409</text><text class="c" x="991.5" y="89">129315</text>
<text class="d" x="271.5" y="102">6.50%</text><text class="d" x="511.5" y="102">0.00%</text><text class="d" x="751.5" y="102">25.00%</text><text class="d" x="991.5" y="102">25.00%</text>
</g>

<g id="row23" transform="translate(0,3583.33)">
<use href="#st4"/>
<text class="mn" x="32" y="-7">89</text><text class="mn" x="272" y="-7">90</text><text class="mn" x="512" y="-7">91</text><text class="mn" x="752" y="-7">92</text>
<rect class="r" x="32" y="11.5" width="44.4" height="7"/><rect class="r" x="122" y="11.5" width="74.6" height="7"/><rect class="r" x="602" y="11.5" width="74.6" height="7"/><rect class="b" x="722" y="41.5" width="44.8" height="7"/>
<use href="#n" class="r" x="32" y="15"/><use href="#n" class="y" x="92" y="30"/><use href="#n" class="r" x="122" y="15"/><use href="#n" class="y" x="212" y="30"/><use href="#n" class="r" x="242" y="15"/><use href="#pmid"/>
<use href="#n" class="r" x="512" y="15"/><use href="#n" class="y" x="572" y="30"/><use href="#n" class="r" x="602" y="15"/><use href="#n" class="y" x="692" y="30"/><use href="#n" class="b" x="722" y="45"/><use href="#n" class="o" x="782" y="60"/><use href="#n" class="b" x="812" y="45"/><use href="#n" class="y" x="842" y="30"/><use href="#n" class="y" x="872" y="30"/><use href="#n" class="r" x="902" y="15"/><use href="#n" class="r" x="932" y="15"/><use href="#n" class="r" x="962" y="15"/>
<text class="a" x="271.5" y="76">231</text><text class="a" x="511.5" y="76">288</text><text class="a" x="751.5" y="76">224</text><text class="a" x="991.5" y="76">259</text>
<text class="c" x="271.5" y="89">130701</text><text class="c" x="511.5" y="89">132429</text><text class="c" x="751.5" y="89">133773</text><text class="c" x="991.5" y="89">135327</text>
<text class="d" x="271.5" y="102">25.00%</text><text class="d" x="511.5" y="102">25.00%</text><text class="d" x="751.5" y="102">25.00%</text><text class="d" x="991.5" y="102">25.00%</text>
</g>

<g id="row24" transform="translate(0,3736.33)">
<use href="#st4"/>
<text class="mn" x="32" y="-7">93</text><text class="mn" x="272" y="-7">94</text><text class="mn" x="512" y="-7">95</text><text class="mn" x="752" y="-7">96</text>
<use href="#n" class="y" x="32" y="30"/><use href="#n" class="y" x="62" y="30"/><use href="#n" class="b" x="122" y="45"/><use href="#n" class="b" x="152" y="45"/><use href="#n" class="r" x="182" y="15"/><use href="#n" class="g" x="212" y="0"/><use href="#n" class="r" x="242" y="15"/><use href="#pmid"/><use href="#p1b"/>
<use href="#s" class="b" x="752" y="45"/><use href="#s" class="r" x="812" y="15"/><use href="#s" class="b" x="827" y="45"/><use href="#s" class="g" x="872" y="0"/><use href="#s" class="y" x="887" y="30"/><use href="#s" class="r" x="902" y="15"/><use href="#s" class="b" x="917" y="45"/><use href="#s" class="r" x="932" y="15"/><use href="#s" class="g" x="962" y="0"/>
<rect class="og" x="752" y="0" width="210" height="60"/><rect class="ob" x="452" y="0" width="480" height="60"/>
<text class="a" x="271.5" y="76">252</text><text class="a" x="511.5" y="76">288</text><text class="a" x="751.5" y="76">288</text><text class="a" x="991.5" y="76">324</text>
<text class="c" x="271.5" y="89">136839</text><text class="c" x="511.5" y="89">138999</text><text class="c" x="751.5" y="89">142455</text><text class="c" x="991.5" y="89">146127</text>
<text class="d" x="271.5" y="102">25.00%</text><text class="d" x="511.5" y="102">21.86%</text><text class="d" x="751.5" y="102">9.36%</text><text class="d" x="991.5" y="102">25.00%</text>
</g>

<g id="row25" transform="translate(0,3889.33)">
<use href="#st4"/>
<text class="mn" x="32" y="-7">97</text><text class="mn" x="272" y="-7">98</text><text class="mn" x="512" y="-7">99</text><text class="mn" x="752" y="-7">100</text>
<use href="#p97"/>
<rect class="op" x="332" y="0" width="5" height="60"/><rect class="ob" x="337" y="0" width="483" height="60"/><rect class="op" x="820" y="0" width="7" height="60"/>
<text class="a" x="271.5" y="76">288</text><text class="a" x="511.5" y="76">303</text><text class="a" x="751.5" y="76">288</text><text class="a" x="991.5" y="76">196</text>
<text class="c" x="271.5" y="89">147855</text><text class="c" x="511.5" y="89">151275</text><text class="c" x="751.5" y="89">154731</text><text class="c" x="991.5" y="89">156555</text>
<text class="d" x="271.5" y="102">25.00%</text><text class="d" x="511.5" y="102">15.99%</text><text class="d" x="751.5" y="102">3.49%</text><text class="d" x="991.5" y="102">0.00%</text>
</g>

<g id="row26" transform="translate(0,4042.33)">
<use href="#st4"/>
<text class="mn" x="32" y="-7">101</text><text class="mn" x="272" y="-7">102</text><text class="mn" x="512" y="-7">103</text><text class="mn" x="752" y="-7">104</text>
<use href="#p97"/>
<text class="a" x="271.5" y="76">288</text><text class="a" x="511.5" y="76">303</text><text class="a" x="751.5" y="76">288</text><text class="a" x="991.5" y="76">196</text>
<text class="c" x="271.5" y="89">158283</text><text class="c" x="511.5" y="89">160101</text><text class="c" x="751.5" y="89">161829</text><text class="c" x="991.5" y="89">163005</text>
<text class="d" x="271.5" y="102">0.00%</text><text class="d" x="511.5" y="102">0.00%</text><text class="d" x="751.5" y="102">0.00%</text><text class="d" x="991.5" y="102">0.00%</text>
</g>

<g id="row27" transform="translate(0,4195.33)">
<use href="#st4"/>
<text class="mn" x="32" y="-7">105</text><text class="mn" x="272" y="-7">106</text><text class="mn" x="512" y="-7">107</text><text class="mn" x="752" y="-7">108</text>
<use href="#p97"/>
<text class="a" x="271.5" y="76">288</text><text class="a" x="511.5" y="76">303</text><text class="a" x="751.5" y="76">288</text><text class="a" x="991.5" y="76">196</text>
<text class="c" x="271.5" y="89">164733</text><text class="c" x="511.5" y="89">166551</text><text class="c" x="751.5" y="89">168279</text><text class="c" x="991.5" y="89">169455</text>
<text class="d" x="271.5" y="102">0.00%</text><text class="d" x="511.5" y="102">0.00%</text><text class="d" x="751.5" y="102">0.00%</text><text class="d" x="991.5" y="102">0.00%</text>
</g>

<g id="row28" transform="translate(0,4348.33)">
<use href="#st3"/>
<text class="mn" x="32" y="-7">109</text><text class="mn" x="272" y="-7">110</text><text class="mn" x="512" y="-7">111</text>
<rect class="g" x="462" y="-3.5" width="50" height="7"/>
<use href="#p97h"/>
<text class="a" x="271.5" y="76">288</text><text class="a" x="511.5" y="76">308</text><text class="a" x="751.5" y="76">1</text>
<text class="c" x="271.5" y="89">171183</text><text class="c" x="511.5" y="89">173031</text><text class="c" x="751.5" y="89">173037</text>
<text class="d" x="271.5" y="102">0.00%</text><text class="d" x="511.5" y="102">0.00%</text><text class="d" x="751.5" y="102">0.00%</text>
</g>
</g>
</svg>
